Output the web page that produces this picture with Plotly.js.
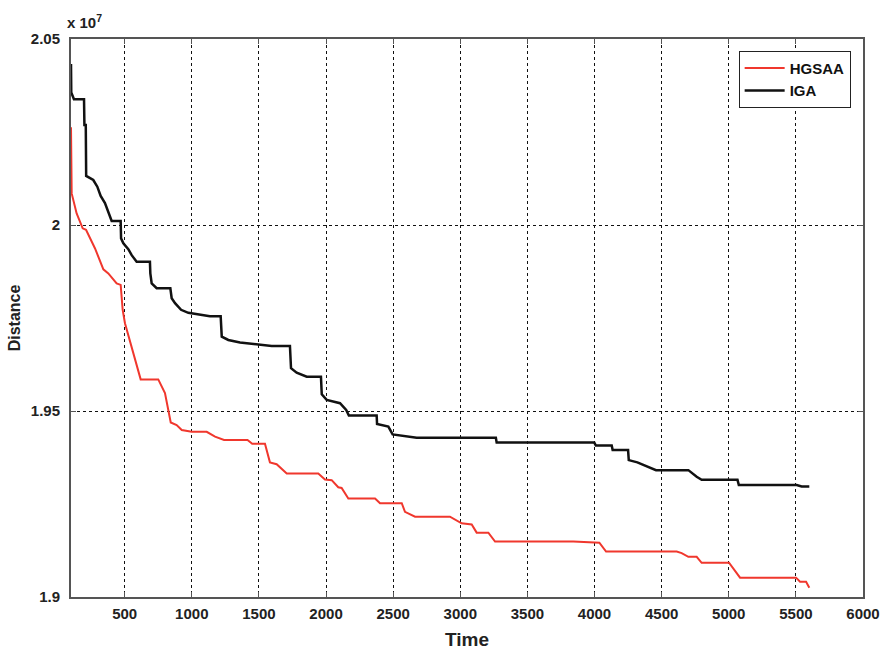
<!DOCTYPE html>
<html>
<head>
<meta charset="utf-8">
<script src="https://cdn.plot.ly/plotly-3.0.1.min.js"></script>
<style>html,body{margin:0;padding:0;background:#fff;}#chart{width:883px;height:654px;}</style>
</head>
<body>
<div id="chart"></div>
<script>
// Time values and distance values (in units of 1e7)
const igaTime = [100,102,122,197,200,210,213,250,266,296,321,353,385,403,470,473,490,527,552,589,688,691,701,738,840,850,875,920,974,1135,1215,1223,1272,1359,1595,1731,1739,1781,1856,1962,1968,2005,2104,2150,2170,2377,2380,2464,2496,2625,2675,3265,3271,3998,4010,4128,4135,4250,4255,4319,4413,4458,4699,4761,4798,5065,5075,5506,5543,5600];
const igaDist = [2.0433,2.0356,2.0338,2.0338,2.0269,2.0269,2.0132,2.0125,2.0121,2.0103,2.0078,2.0059,2.0031,2.0011,2.0011,1.9964,1.9951,1.9935,1.9919,1.9901,1.9901,1.9870,1.9843,1.9830,1.9830,1.9803,1.9790,1.9772,1.9764,1.9755,1.9755,1.9700,1.9691,1.9684,1.9675,1.9675,1.9615,1.9603,1.9592,1.9592,1.9545,1.9530,1.9521,1.9503,1.9488,1.9488,1.9465,1.9458,1.9437,1.9431,1.9428,1.9428,1.9415,1.9415,1.9407,1.9407,1.9395,1.9395,1.9368,1.9362,1.9349,1.9341,1.9341,1.9323,1.9315,1.9315,1.9301,1.9301,1.9297,1.9297];

const hgsaaTime = [100,102,105,142,187,212,279,341,378,440,470,485,502,619,750,800,843,887,925,999,1111,1173,1240,1415,1450,1545,1582,1632,1707,1942,1992,2042,2091,2116,2166,2365,2402,2564,2588,2663,2923,3010,3085,3122,3209,3259,3842,4036,4086,4612,4649,4699,4761,4798,5002,5084,5501,5531,5576,5600];
const hgsaaDist = [2.0263,2.0160,2.0085,2.0031,1.9991,1.9987,1.9937,1.9881,1.9870,1.9843,1.9839,1.9772,1.9736,1.9585,1.9585,1.9548,1.9469,1.9462,1.9449,1.9444,1.9444,1.9431,1.9422,1.9422,1.9412,1.9412,1.9362,1.9357,1.9332,1.9332,1.9316,1.9314,1.9295,1.9293,1.9265,1.9265,1.9252,1.9252,1.9229,1.9216,1.9216,1.9198,1.9195,1.9173,1.9173,1.9149,1.9149,1.9146,1.9122,1.9122,1.9118,1.9108,1.9108,1.9092,1.9092,1.9052,1.9052,1.9041,1.9041,1.9025];

const xTicks = [500,1000,1500,2000,2500,3000,3500,4000,4500,5000,5500,6000];
const yTicks = [1.9,1.95,2,2.05];
const yTickText = ['1.9','1.95','2','2.05'];

const font = 'Liberation Sans, Arial, sans-serif';

const traces = [
  {x: hgsaaTime, y: hgsaaDist, type: 'scatter', mode: 'lines', name: 'HGSAA',
   line: {color: 'rgb(240,55,45)', width: 2}},
  {x: igaTime, y: igaDist, type: 'scatter', mode: 'lines', name: 'IGA',
   line: {color: '#111', width: 2.5}}
];

const layout = {
  width: 883, height: 654,
  margin: {l: 71, r: 20, t: 39, b: 57},
  paper_bgcolor: '#fff', plot_bgcolor: '#fff',
  showlegend: true,
  legend: {x: 0.843, y: 0.979, xanchor: 'left', yanchor: 'top',
    bordercolor: '#222', borderwidth: 1, bgcolor: '#fff',
    font: {family: font, size: 15, color: '#111', weight: 'bold'},
    tracegroupgap: 0, itemwidth: 40},
  xaxis: {
    range: [100, 6000], tickvals: xTicks, ticktext: xTicks.map(String),
    showgrid: true, gridcolor: '#111', griddash: 'dot', gridwidth: 1,
    zeroline: false, showline: true, linecolor: '#555', linewidth: 2, mirror: 'ticks',
    ticks: 'inside', ticklen: 5, tickcolor: '#555', ticklabelstandoff: 2,
    tickfont: {family: font, size: 15, color: '#222', weight: 'bold'},
    title: {text: 'Time', font: {family: font, size: 19, color: '#222', weight: 'bold'}, standoff: 12},
    automargin: false
  },
  yaxis: {
    range: [1.9, 2.05], tickvals: yTicks, ticktext: yTickText,
    showgrid: true, gridcolor: '#111', griddash: 'dot', gridwidth: 1,
    zeroline: false, showline: true, linecolor: '#555', linewidth: 2, mirror: 'ticks',
    ticks: 'inside', ticklen: 5, tickcolor: '#555', ticklabelstandoff: 6,
    tickfont: {family: font, size: 15, color: '#222', weight: 'bold'},
    title: {text: 'Distance', font: {family: font, size: 16, color: '#222', weight: 'bold'}, standoff: 6},
    automargin: false
  },
  annotations: [
    {xref: 'paper', yref: 'paper', x: -0.008, y: 1, xanchor: 'left', yanchor: 'bottom',
     text: 'x 10<sup>7</sup>', showarrow: false, yshift: 6,
     font: {family: font, size: 15, color: '#222', weight: 'bold'}}
  ]
};

Plotly.newPlot('chart', traces, layout, {displayModeBar: false, staticPlot: true});
</script>
</body>
</html>
